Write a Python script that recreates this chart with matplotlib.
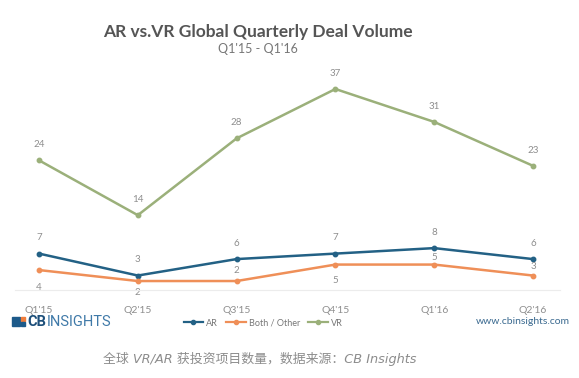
import matplotlib
matplotlib.use("Agg")
import matplotlib.pyplot as plt
from matplotlib.patches import Rectangle
from matplotlib.lines import Line2D

# --- dados ---
trimestres = ["Q1'15", "Q2'15", "Q3'15", "Q4'15", "Q1'16", "Q2'16"]
ar = [7, 3, 6, 7, 8, 6]
ambos = [4, 2, 2, 5, 5, 3]
vr = [24, 14, 28, 37, 31, 23]

titulo = "AR vs.VR Global Quarterly Deal Volume"
subtitulo = "Q1'15 - Q1'16"
legenda = ["AR", "Both / Other", "VR"]
legenda_rodape = "全球 VR/AR 获投资项目数量，数据来源：CB Insights"

# deslocamento vertical dos rótulos (pontos)
desl_ar = [8, 8, 8, 8, 8, 8]
desl_ambos = [-9, -5, 4, -8, 2, 3.5]
desl_vr = [8, 8, 8, 8, 8, 8]

cor_ar = "#236185"
cor_ambos = "#ef8f58"
cor_vr = "#9bb07a"
cinza = "#8e8e8e"

fig = plt.figure(figsize=(5.79, 3.78), dpi=100)
fig.patch.set_facecolor("white")

ax = fig.add_axes([39 / 579, 1 - 292 / 378, (533 - 39) / 579, (292 - 89) / 378])
x = list(range(len(trimestres)))

for serie, cor, desl in [(ar, cor_ar, desl_ar), (ambos, cor_ambos, desl_ambos), (vr, cor_vr, desl_vr)]:
    ax.plot(x, serie, color=cor, lw=1.8, marker="o", ms=3.2, clip_on=False, zorder=3)
    for xi, yi, d in zip(x, serie, desl):
        ax.annotate(str(yi), (xi, yi), xytext=(0, d), textcoords="offset points",
                    ha="center", va="bottom" if d > 0 else "top",
                    fontsize=7, color=cinza, family="Lato", zorder=4)

ax.set_xlim(0, 5)
ax.set_ylim(0, 37)
ax.axis("off")

# linha de base
fig.add_artist(Line2D([15 / 579, 560 / 579], [1 - 290 / 378] * 2, color="#ececec", lw=0.8))

# rótulos do eixo x
for xi, rot in zip(x, trimestres):
    ax.text(xi, -0.07, rot, transform=ax.get_xaxis_transform(), ha="center", va="top",
            fontsize=7.5, color=cinza, family="Lato")

# título
fig.text(258 / 579, 1 - 32 / 378, titulo, ha="center", va="center",
         fontsize=12.5, fontweight="bold", color="#555555", family="Lato")
fig.text(258 / 579, 1 - 49 / 378, subtitulo, ha="center", va="center",
         fontsize=9, color="#777777", family="Lato")

# logotipo CB Insights
fig.add_artist(Rectangle((12 / 579, 1 - 326 / 378), 8 / 579, 9 / 378, color="#1d5a8a"))
fig.add_artist(Rectangle((21 / 579, 1 - 321 / 378), 4 / 579, 4 / 378, color="#ef7d3c"))
fig.add_artist(Rectangle((21 / 579, 1 - 326 / 378), 4 / 579, 4 / 378, color="#1d5a8a"))
fig.text(27 / 579, 1 - 322 / 378, "CB", ha="left", va="center",
         fontsize=10.5, fontweight="bold", color="#1d4f7a", family="Roboto")
fig.text(47 / 579, 1 - 322 / 378, "INSIGHTS", ha="left", va="center",
         fontsize=10.5, color="#3f79a8", family="Roboto")

fig.text(570 / 579, 1 - 322 / 378, "www.cbinsights.com", ha="right", va="center",
         fontsize=7.5, color="#3b6a90", family="Lato")

# legenda
handles = [Line2D([], [], color=c, lw=1.6, marker="o", ms=3)
           for c in (cor_ar, cor_ambos, cor_vr)]
fig.legend(handles, legenda, loc="center", bbox_to_anchor=(263 / 579, 1 - 323 / 378),
           ncol=3, frameon=False, handlelength=2.2, handletextpad=0.3,
           columnspacing=0.9, labelcolor="#777777",
           prop={"family": "Lato", "size": 6.5})

# legenda do rodapé
fig.text(260 / 579, 1 - 359 / 378, legenda_rodape, ha="center", va="center",
         fontsize=9.3, style="italic", color="#8c8c8c",
         family=["DejaVu Sans", "Noto Sans CJK SC"])

fig.savefig("out.png", dpi=100)
